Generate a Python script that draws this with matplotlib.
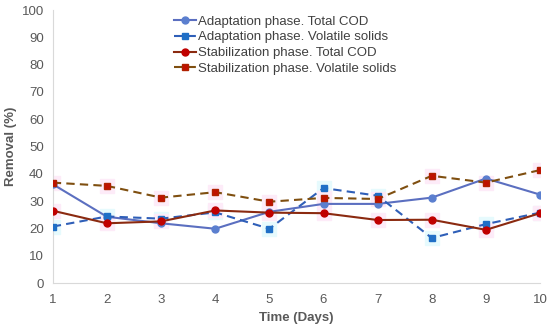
import numpy as np
import matplotlib.pyplot as plt

plt.rcParams['font.family'] = ['Liberation Sans', 'DejaVu Sans']

# Removal (%)
days = np.arange(1, 11)
adapt_cod = [36.2, 24.3, 21.9, 19.9, 26.1, 29.0, 29.0, 31.3, 38.3, 32.4]
adapt_vs = [20.7, 24.4, 23.6, 25.9, 19.9, 34.8, 32.0, 16.5, 21.6, 25.8]
stab_cod = [26.5, 21.9, 22.6, 26.6, 25.8, 25.6, 23.1, 23.2, 19.5, 25.6]
stab_vs = [36.8, 35.6, 31.3, 33.3, 29.8, 31.2, 30.8, 39.3, 36.8, 41.4]

labels = ["Adaptation phase. Total COD",
          "Adaptation phase. Volatile solids",
          "Stabilization phase. Total COD",
          "Stabilization phase. Volatile solids"]

fig = plt.figure(figsize=(5.5, 3.25), dpi=100)
ax = fig.add_axes([0.096, 0.129, 0.886, 0.84])

# faint halos behind the markers (as in the reference)
ax.plot(days, adapt_vs, ls='none', marker='s', ms=10, color='#e6fafd', zorder=1)
ax.plot(days, stab_cod, ls='none', marker='s', ms=10, color='#fdebf8', zorder=1)
ax.plot(days, stab_vs, ls='none', marker='s', ms=10, color='#fdebf8', zorder=1)

ax.plot(days, adapt_cod, color='#5b6fc0', lw=1.5, marker='o', ms=5,
        mfc='#5b7fcf', mec='#5b7fcf', label=labels[0], zorder=3)
ax.plot(days, adapt_vs, color='#2f5fb8', lw=1.5, ls=(0, (4, 2.5)), marker='s', ms=5,
        mfc='#1f6fc6', mec='#1f6fc6', label=labels[1], zorder=3)
ax.plot(days, stab_cod, color='#8b2a10', lw=1.5, marker='o', ms=5,
        mfc='#c00000', mec='#c00000', label=labels[2], zorder=3)
ax.plot(days, stab_vs, color='#7f4f10', lw=1.5, ls=(0, (4, 2.5)), marker='s', ms=5,
        mfc='#c01000', mec='#b02000', label=labels[3], zorder=3)

ax.set_xlim(1, 10)
ax.set_ylim(0, 100)
ax.set_xticks(days)
ax.set_yticks(np.arange(0, 101, 10))
ax.tick_params(axis='x', length=0, labelsize=9.5, labelcolor='#595959', pad=8)
ax.tick_params(axis='y', length=0, labelsize=9.5, labelcolor='#595959', pad=6.5)

for s in ['top', 'right']:
    ax.spines[s].set_visible(False)
for s in ['left', 'bottom']:
    ax.spines[s].set_color('#d9d9d9')

ax.set_xlabel('Time (Days)', fontsize=9.5, fontweight='bold', color='#595959', labelpad=4)
ax.set_ylabel('Removal (%)', fontsize=9.5, fontweight='bold', color='#595959')
ax.yaxis.set_label_coords(-0.074, 0.5)

leg = ax.legend(loc='upper left', bbox_to_anchor=(0.243, 0.99), frameon=False,
                fontsize=9.5, labelspacing=0.27, handlelength=1.7, handletextpad=0.1,
                borderaxespad=0, borderpad=0.2)
for t in leg.get_texts():
    t.set_color('#404040')

fig.savefig('out.png', dpi=100)
